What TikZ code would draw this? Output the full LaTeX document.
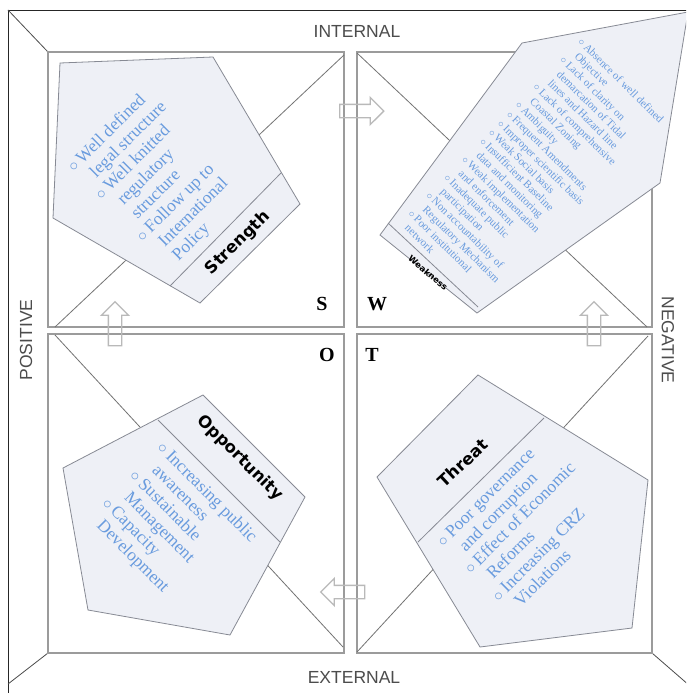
\documentclass[tikz,border=0pt]{standalone}
\usepackage{fontspec}
\setmainfont{Liberation Serif}
\newfontfamily\seitenfont{Liberation Sans}
\newfontfamily\titelfont{DejaVu Sans}
\usepackage{tikz}
\usetikzlibrary{shapes.arrows,positioning}

\definecolor{feld}{RGB}{238,240,246}
\definecolor{punktblau}{RGB}{105,155,222}
\definecolor{linie}{RGB}{155,155,155}
\definecolor{kante}{RGB}{135,138,148}

\newcommand{\pkt}{\makebox[0.7em][l]{$\circ$}}
\newcommand{\ein}{\hspace*{0.7em}}

\begin{document}
\begin{tikzpicture}[x=1pt,y=-1pt,
		quadrant/.style={draw=linie,line width=1.4pt},
		raute/.style={draw=black!55,line width=0.8pt},
		pfeil/.style={single arrow,draw=gray!55,line width=1.3pt,minimum height=44pt,
			single arrow head extend=7pt,inner sep=6pt},
		fuenfeck/.style={fill=feld,draw=kante,line width=0.8pt},
		punkte/.style={text=punktblau,align=left,inner sep=0pt,
			font=\fontsize{17.5}{19.5}\selectfont},
		titel/.style={font={\titelfont\bfseries\fontsize{16.5}{18}\selectfont}},
		seite/.style={text=black!70,font={\seitenfont\fontsize{17.5}{20}\selectfont}},
		buchst/.style={font={\bfseries\fontsize{20}{22}\selectfont}}]
		\useasboundingbox (0,0) rectangle (686,693);
		\fill[white] (0,0) rectangle (686,693);
		\clip (0,0) rectangle (686,693);
		% Rahmen zeichnen
		\draw[black!85,line width=0.8pt] (8,10) rectangle (700,706);
		\draw[black!70,line width=0.8pt] (8,10) -- (48,52);
		\draw[black!70,line width=0.8pt] (48,653) -- (8,684);
		\draw[black!70,line width=0.8pt] (652,653) -- (690,686);
		% Quadranten
		\draw[quadrant] (48,52) rectangle (344,327);
		\draw[quadrant] (357,52) rectangle (652,327);
		\draw[quadrant] (48,334) rectangle (344,653);
		\draw[quadrant] (357,334) rectangle (652,653);
		% Raute
		\draw[raute] (55,327) -- (344,55);
		\draw[raute] (357,53) -- (647,327);
		\draw[raute] (55,335) -- (343,647);
		\draw[raute] (357,652) -- (648,336);
		% Pfeile
		\node[pfeil] (pfeilO) at (358.5,111) {};
		\node[pfeil,rotate=90] (pfeilL) at (115,327) {};
		\node[pfeil,rotate=90] (pfeilR) at (594,327) {};
		\node[pfeil,rotate=180] (pfeilU) at (346,592) {};
		% Seiten beschriften
		\node[seite] (intern) at (357,31) {INTERNAL};
		\node[seite] (extern) at (354,677) {EXTERNAL};
		\node[seite,rotate=90] (positiv) at (26,340) {POSITIVE};
		\node[seite,rotate=-90] (negativ) at (668,340) {NEGATIVE};
		\node[buchst] (s) at (322,304) {S};
		\node[buchst] (w) at (377,304) {W};
		\node[buchst] (o) at (327,355) {O};
		\node[buchst] (t) at (372,355) {T};
		% Fuenfecke
		\filldraw[fuenfeck] (60,63) -- (213,57) -- (300,204) -- (200,303) -- (53,218) -- cycle;
		\draw[fuenfeck] (281,173) -- (170,286);
		\filldraw[fuenfeck] (522,43) -- (688,12) -- (660,183) -- (477,313) -- (380,235) -- cycle;
		\draw[fuenfeck] (388,223) -- (478,307);
		\filldraw[fuenfeck] (63,468) -- (203,395) -- (305,497) -- (230,635) -- (88,610) -- cycle;
		\draw[fuenfeck] (158,420) -- (280,542);
		\filldraw[fuenfeck] (478,375) -- (648,480) -- (632,628) -- (480,647) -- (377,477) -- cycle;
		\draw[fuenfeck] (544,418) -- (418,542);
		% Titel
		\node[titel,rotate=44.7] (staerke) at (238,243) {Strength};
		\node[titel,rotate=-45] (chance) at (240,458) {Opportunity};
		\node[titel,rotate=43] (risiko) at (463,463) {Threat};
		\node[titel,rotate=-40,font={\titelfont\bfseries\fontsize{8.5}{10}\selectfont}] (schwaeche) at (428,273) {Weakness};
		% Punkte
		\node[punkte,rotate=44.7,anchor=north west] (staerkeP) at (65,164)
			{\pkt Well defined\\ \ein legal structure\\ \pkt Well knitted\\ \ein regulatory\\ \ein structure\\
			 \pkt Follow up to\\ \ein International\\ \ein Policy};
		\node[punkte,rotate=-44.7,anchor=north west,font=\fontsize{11}{12.7}\selectfont] (schwaecheP) at (583,37)
			{\pkt Absence of well defined\\ \ein Objective\\ \pkt Lack of clarity on\\ \ein demarcation of Tidal\\
			 \ein lines and Hazard line\\ \pkt Lack of comprehensive\\ \ein Coastal Zoning\\ \pkt Ambiguity\\
			 \pkt Frequent Amendments\\ \pkt Improper scientific basis\\ \pkt Weak Social basis\\
			 \pkt Insufficient Baseline\\ \ein data and monitoring\\ \pkt Weak implementation\\ \ein and enforcement\\
			 \pkt Inadequate public\\ \ein participation\\ \pkt Non accountability of\\ \ein Regulatory Mechanism\\
			 \pkt Poor institutional\\ \ein network};
		\node[punkte,rotate=-45,anchor=north west] (chanceP) at (165,440)
			{\pkt Increasing public\\ \ein awareness\\ \pkt Sustainable\\ \ein Management\\ \pkt Capacity\\ \ein Development};
		\node[punkte,rotate=45,anchor=north west] (risikoP) at (435,539)
			{\pkt Poor governance\\ \ein and corruption\\ \pkt Effect of Economic\\ \ein Reforms\\ \pkt Increasing CRZ\\ \ein Violations};
\end{tikzpicture}
\end{document}
